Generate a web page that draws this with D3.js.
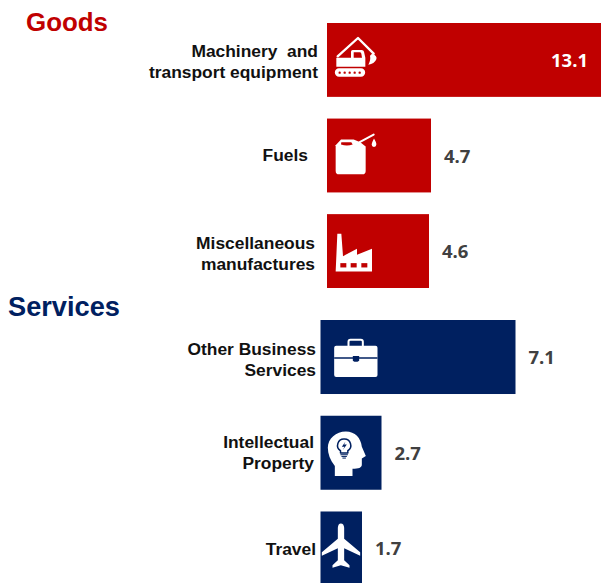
<!DOCTYPE html>
<html>
<head>
<meta charset="utf-8">
<script src="https://cdn.jsdelivr.net/npm/d3@7"></script>
<style>
html,body{margin:0;padding:0;background:#fff}
svg{display:block}
text{white-space:pre}
</style>
</head>
<body>
<svg id="chart" width="601" height="583"></svg>
<script>
// ---- data ----
const goodsCategories = ["Machinery  and|transport equipment", "Fuels", "Miscellaneous|manufactures"];
const goodsValues = [13.1, 4.7, 4.6];
const servicesCategories = ["Other Business|Services", "Intellectual|Property", "Travel"];
const servicesValues = [7.1, 2.7, 1.7];
const groupTitles = ["Goods", "Services"];
const goodsIcons = ["excavator", "can", "factory"];
const servicesIcons = ["briefcase", "head", "plane"];

const RED = "#c00000", NAVY = "#002060", GREY = "#404040", WHITE = "#ffffff";
const svg = d3.select("#chart");

// The source graphic's bars are not strictly proportional to their labels,
// so the length scale is piecewise linear.
const lengthScale = d3.scaleLinear()
  .domain([0, 1.7, 2.7, 4.6, 4.7, 7.1, 13.1])
  .range([0, 41.5, 61, 102, 104, 195, 274]);

const groups = [
  {title: groupTitles[0], cats: goodsCategories, vals: goodsValues, icons: goodsIcons, color: RED,
   x0: 327, y: d3.scaleBand().domain(goodsCategories).range([23, 288]).paddingInner(0.227),
   titleX: 26, titleY: 31, titleSize: 25.9, labelRight: [318, 308, 315], labelShift: [0, -1, 0]},
  {title: groupTitles[1], cats: servicesCategories, vals: servicesValues, icons: servicesIcons, color: NAVY,
   x0: 320.5, y: d3.scaleBand().domain(servicesCategories).range([320, 585.5]).paddingInner(0.227),
   titleX: 8, titleY: 316, titleSize: 27.2, labelRight: [316, 314, 316], labelShift: [0, -2, 1]}
];

// icon drawings are authored at 3x, around their origin at the bar's top-left corner
const icons = {
  excavator: {o:[20,24], shapes:(c)=>[
    {d:"M52 124L113 69L160 116", fill:"none", stroke:WHITE, sw:7},
    {d:"M48 128H92V110Q92 105 97 105H124Q130 105 131 110L135 128V155H48Z", fill:WHITE},
    {d:"M100 112H118Q122 112 123 116L125 128H100Z", fill:c},
    {d:"M155 116Q172 122 168 133Q162 148 144 149Q152 135 149 122Z", fill:WHITE},
    {d:"M56 160H122A12 12 0 0 1 122 185H56A12 12 0 0 1 56 160Z", fill:WHITE},
    ...[58,73,88,103,118].map(x=>({d:`M${x-3.5} 173a3.5 3.5 0 1 0 7 0a3.5 3.5 0 1 0 -7 0Z`, fill:c}))
  ]},
  can: {o:[20,308], shapes:(c)=>[
    {d:"M46 388L62 371H100L120 379L136 392V465Q136 475 126 475H56Q46 475 46 465Z", fill:WHITE},
    {d:"M63 379H93L97 386Q80 392 62 386Z", fill:c},
    {d:"M118 379L160 356", fill:"none", stroke:WHITE, sw:6},
    {d:"M161 368Q169 382 168 386A7 7 0 0 1 154 386Q154 382 161 368Z", fill:WHITE}
  ]},
  factory: {o:[20,596], shapes:(c)=>[
    {d:"M46 768L51 655H63L68 722L110 700V718L155 700V768Z", fill:WHITE},
    {d:"M60 743H78V756H60Z", fill:c},
    {d:"M91 743H109V756H91Z", fill:c},
    {d:"M123 743H141V756H123Z", fill:c}
  ]},
  briefcase: {o:[31,31], shapes:(c)=>[
    {d:"M115 108V96Q115 90 121 90H152Q158 90 158 96V108", fill:"none", stroke:WHITE, sw:6},
    {d:"M78 108H196Q202 108 202 114V196Q202 202 196 202H78Q72 202 72 196V114Q72 108 78 108Z", fill:WHITE},
    {d:"M72 143H202V147H72Z", fill:c},
    {d:"M128 139H147V153Q137 160 128 153Z", fill:c}
  ]},
  head: {o:[31,319], shapes:(c)=>[
    {d:"M74 500V470C60 452 53 433 53 415C53 387 78 366 107 366C135 366 152 385 155 412L167 440L155 447V465C155 475 145 478 127 478V500Z", fill:WHITE},
    {d:"M102 389A19 19 0 0 1 113 424V431H91V424A19 19 0 0 1 102 389Z", fill:WHITE, stroke:c, sw:4.5},
    {d:"M106 396L95 412H103L98 422L110 405H102Z", fill:c},
    {d:"M92 436H112M95 441H109M98 446H106", fill:"none", stroke:c, sw:3}
  ]},
  plane: {o:[31,606], shapes:(c)=>[
    {d:"M83 655Q84 642 92 642Q101 642 102 655V688L150 728V739L102 716V752L118 767V775L92 767L67 775V767L83 752V716L35 739V728L83 688Z", fill:WHITE}
  ]}
};

groups.forEach(g => {
  const row = svg.append("g").selectAll("g")
    .data(g.cats.map((cat,i)=>({cat, value:g.vals[i], icon:g.icons[i], right:g.labelRight[i], shift:g.labelShift[i]})))
    .join("g");

  row.append("rect")
    .attr("x", g.x0)
    .attr("y", d => g.y(d.cat))
    .attr("width", d => lengthScale(d.value))
    .attr("height", g.y.bandwidth())
    .attr("fill", g.color);

  // category labels
  row.each(function(d){
    const lines = d.cat.split("|");
    const yc = g.y(d.cat) + g.y.bandwidth()/2 + d.shift;
    const t = d3.select(this).append("text")
      .attr("text-anchor","end")
      .attr("font-family","'Liberation Sans',Arial,sans-serif")
      .attr("font-weight","bold")
      .attr("font-size",17.4)
      .attr("fill","#111");
    lines.forEach((line,i)=>{
      const base = lines.length===1 ? yc+6 : yc-2.5+i*21;
      t.append("tspan").attr("x",d.right).attr("y",base).text(line);
    });
  });

  // value labels
  row.append("text")
    .attr("x", d => d.value > 10 ? g.x0 + lengthScale(d.value) - 50 : g.x0 + lengthScale(d.value) + 13)
    .attr("y", d => g.y(d.cat) + g.y.bandwidth()/2 + 7)
    .attr("font-family","'Open Sans',sans-serif")
    .attr("font-weight","bold")
    .attr("font-size",18.5)
    .attr("fill", d => d.value > 10 ? WHITE : GREY)
    .text(d => d.value.toFixed(1));

  // icons
  row.each(function(d){
    const ic = icons[d.icon];
    const ig = d3.select(this).append("g")
      .attr("transform",`translate(${g.x0},${g.y(d.cat)}) scale(${1/3}) translate(${-ic.o[0]},${-ic.o[1]})`);
    ic.shapes(g.color).forEach(s=>{
      ig.append("path").attr("d",s.d).attr("fill",s.fill)
        .attr("stroke",s.stroke||"none").attr("stroke-width",s.sw||0)
        .attr("stroke-linecap","round").attr("stroke-linejoin","round");
    });
  });

  svg.append("text")
    .attr("x",g.titleX).attr("y",g.titleY)
    .attr("font-family","'Liberation Sans',Arial,sans-serif")
    .attr("font-weight","bold")
    .attr("font-size",g.titleSize)
    .attr("fill",g.color)
    .text(g.title);
});
</script>
</body>
</html>
